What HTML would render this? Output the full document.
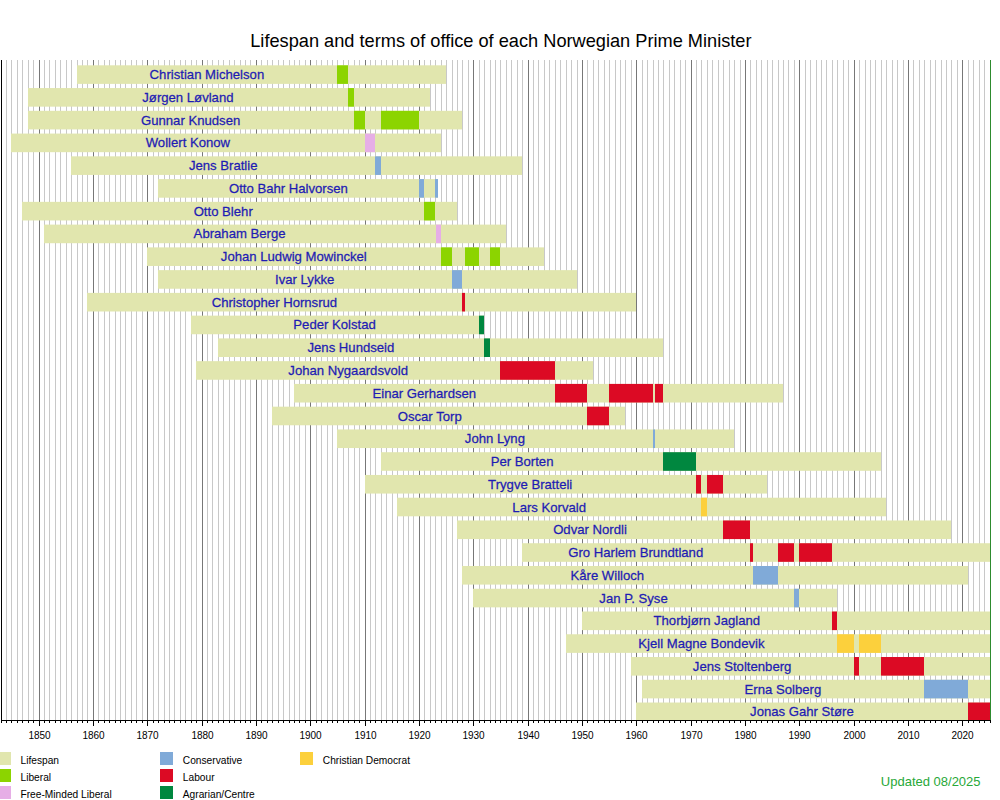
<!DOCTYPE html><html><head><meta charset="utf-8"><style>html,body{margin:0;padding:0;background:#fff;width:1000px;height:800px;overflow:hidden}svg{display:block}text{font-family:"Liberation Sans",sans-serif}</style></head><body>
<svg width="1000" height="800" viewBox="0 0 1000 800">
<rect width="1000" height="800" fill="#fff"/>
<g shape-rendering="crispEdges">
<rect x="6" y="60" width="1" height="660" fill="#c8c8c8"/>
<rect x="11" y="60" width="1" height="660" fill="#c8c8c8"/>
<rect x="17" y="60" width="1" height="660" fill="#c8c8c8"/>
<rect x="22" y="60" width="1" height="660" fill="#c8c8c8"/>
<rect x="28" y="60" width="1" height="660" fill="#c8c8c8"/>
<rect x="33" y="60" width="1" height="660" fill="#c8c8c8"/>
<rect x="39" y="60" width="1" height="660" fill="#777777"/>
<rect x="44" y="60" width="1" height="660" fill="#c8c8c8"/>
<rect x="49" y="60" width="1" height="660" fill="#c8c8c8"/>
<rect x="55" y="60" width="1" height="660" fill="#c8c8c8"/>
<rect x="60" y="60" width="1" height="660" fill="#c8c8c8"/>
<rect x="66" y="60" width="1" height="660" fill="#c8c8c8"/>
<rect x="71" y="60" width="1" height="660" fill="#c8c8c8"/>
<rect x="77" y="60" width="1" height="660" fill="#c8c8c8"/>
<rect x="82" y="60" width="1" height="660" fill="#c8c8c8"/>
<rect x="87" y="60" width="1" height="660" fill="#c8c8c8"/>
<rect x="93" y="60" width="1" height="660" fill="#777777"/>
<rect x="98" y="60" width="1" height="660" fill="#c8c8c8"/>
<rect x="104" y="60" width="1" height="660" fill="#c8c8c8"/>
<rect x="109" y="60" width="1" height="660" fill="#c8c8c8"/>
<rect x="115" y="60" width="1" height="660" fill="#c8c8c8"/>
<rect x="120" y="60" width="1" height="660" fill="#c8c8c8"/>
<rect x="125" y="60" width="1" height="660" fill="#c8c8c8"/>
<rect x="131" y="60" width="1" height="660" fill="#c8c8c8"/>
<rect x="136" y="60" width="1" height="660" fill="#c8c8c8"/>
<rect x="142" y="60" width="1" height="660" fill="#c8c8c8"/>
<rect x="147" y="60" width="1" height="660" fill="#777777"/>
<rect x="153" y="60" width="1" height="660" fill="#c8c8c8"/>
<rect x="158" y="60" width="1" height="660" fill="#c8c8c8"/>
<rect x="164" y="60" width="1" height="660" fill="#c8c8c8"/>
<rect x="169" y="60" width="1" height="660" fill="#c8c8c8"/>
<rect x="174" y="60" width="1" height="660" fill="#c8c8c8"/>
<rect x="180" y="60" width="1" height="660" fill="#c8c8c8"/>
<rect x="185" y="60" width="1" height="660" fill="#c8c8c8"/>
<rect x="191" y="60" width="1" height="660" fill="#c8c8c8"/>
<rect x="196" y="60" width="1" height="660" fill="#c8c8c8"/>
<rect x="202" y="60" width="1" height="660" fill="#777777"/>
<rect x="207" y="60" width="1" height="660" fill="#c8c8c8"/>
<rect x="212" y="60" width="1" height="660" fill="#c8c8c8"/>
<rect x="218" y="60" width="1" height="660" fill="#c8c8c8"/>
<rect x="223" y="60" width="1" height="660" fill="#c8c8c8"/>
<rect x="229" y="60" width="1" height="660" fill="#c8c8c8"/>
<rect x="234" y="60" width="1" height="660" fill="#c8c8c8"/>
<rect x="240" y="60" width="1" height="660" fill="#c8c8c8"/>
<rect x="245" y="60" width="1" height="660" fill="#c8c8c8"/>
<rect x="250" y="60" width="1" height="660" fill="#c8c8c8"/>
<rect x="256" y="60" width="1" height="660" fill="#777777"/>
<rect x="261" y="60" width="1" height="660" fill="#c8c8c8"/>
<rect x="267" y="60" width="1" height="660" fill="#c8c8c8"/>
<rect x="272" y="60" width="1" height="660" fill="#c8c8c8"/>
<rect x="278" y="60" width="1" height="660" fill="#c8c8c8"/>
<rect x="283" y="60" width="1" height="660" fill="#c8c8c8"/>
<rect x="289" y="60" width="1" height="660" fill="#c8c8c8"/>
<rect x="294" y="60" width="1" height="660" fill="#c8c8c8"/>
<rect x="299" y="60" width="1" height="660" fill="#c8c8c8"/>
<rect x="305" y="60" width="1" height="660" fill="#c8c8c8"/>
<rect x="310" y="60" width="1" height="660" fill="#777777"/>
<rect x="316" y="60" width="1" height="660" fill="#c8c8c8"/>
<rect x="321" y="60" width="1" height="660" fill="#c8c8c8"/>
<rect x="327" y="60" width="1" height="660" fill="#c8c8c8"/>
<rect x="332" y="60" width="1" height="660" fill="#c8c8c8"/>
<rect x="337" y="60" width="1" height="660" fill="#c8c8c8"/>
<rect x="343" y="60" width="1" height="660" fill="#c8c8c8"/>
<rect x="348" y="60" width="1" height="660" fill="#c8c8c8"/>
<rect x="354" y="60" width="1" height="660" fill="#c8c8c8"/>
<rect x="359" y="60" width="1" height="660" fill="#c8c8c8"/>
<rect x="365" y="60" width="1" height="660" fill="#777777"/>
<rect x="370" y="60" width="1" height="660" fill="#c8c8c8"/>
<rect x="375" y="60" width="1" height="660" fill="#c8c8c8"/>
<rect x="381" y="60" width="1" height="660" fill="#c8c8c8"/>
<rect x="386" y="60" width="1" height="660" fill="#c8c8c8"/>
<rect x="392" y="60" width="1" height="660" fill="#c8c8c8"/>
<rect x="397" y="60" width="1" height="660" fill="#c8c8c8"/>
<rect x="403" y="60" width="1" height="660" fill="#c8c8c8"/>
<rect x="408" y="60" width="1" height="660" fill="#c8c8c8"/>
<rect x="413" y="60" width="1" height="660" fill="#c8c8c8"/>
<rect x="419" y="60" width="1" height="660" fill="#777777"/>
<rect x="424" y="60" width="1" height="660" fill="#c8c8c8"/>
<rect x="430" y="60" width="1" height="660" fill="#c8c8c8"/>
<rect x="435" y="60" width="1" height="660" fill="#c8c8c8"/>
<rect x="441" y="60" width="1" height="660" fill="#c8c8c8"/>
<rect x="446" y="60" width="1" height="660" fill="#c8c8c8"/>
<rect x="452" y="60" width="1" height="660" fill="#c8c8c8"/>
<rect x="457" y="60" width="1" height="660" fill="#c8c8c8"/>
<rect x="462" y="60" width="1" height="660" fill="#c8c8c8"/>
<rect x="468" y="60" width="1" height="660" fill="#c8c8c8"/>
<rect x="473" y="60" width="1" height="660" fill="#777777"/>
<rect x="479" y="60" width="1" height="660" fill="#c8c8c8"/>
<rect x="484" y="60" width="1" height="660" fill="#c8c8c8"/>
<rect x="490" y="60" width="1" height="660" fill="#c8c8c8"/>
<rect x="495" y="60" width="1" height="660" fill="#c8c8c8"/>
<rect x="500" y="60" width="1" height="660" fill="#c8c8c8"/>
<rect x="506" y="60" width="1" height="660" fill="#c8c8c8"/>
<rect x="511" y="60" width="1" height="660" fill="#c8c8c8"/>
<rect x="517" y="60" width="1" height="660" fill="#c8c8c8"/>
<rect x="522" y="60" width="1" height="660" fill="#c8c8c8"/>
<rect x="528" y="60" width="1" height="660" fill="#777777"/>
<rect x="533" y="60" width="1" height="660" fill="#c8c8c8"/>
<rect x="538" y="60" width="1" height="660" fill="#c8c8c8"/>
<rect x="544" y="60" width="1" height="660" fill="#c8c8c8"/>
<rect x="549" y="60" width="1" height="660" fill="#c8c8c8"/>
<rect x="555" y="60" width="1" height="660" fill="#c8c8c8"/>
<rect x="560" y="60" width="1" height="660" fill="#c8c8c8"/>
<rect x="566" y="60" width="1" height="660" fill="#c8c8c8"/>
<rect x="571" y="60" width="1" height="660" fill="#c8c8c8"/>
<rect x="577" y="60" width="1" height="660" fill="#c8c8c8"/>
<rect x="582" y="60" width="1" height="660" fill="#777777"/>
<rect x="587" y="60" width="1" height="660" fill="#c8c8c8"/>
<rect x="593" y="60" width="1" height="660" fill="#c8c8c8"/>
<rect x="598" y="60" width="1" height="660" fill="#c8c8c8"/>
<rect x="604" y="60" width="1" height="660" fill="#c8c8c8"/>
<rect x="609" y="60" width="1" height="660" fill="#c8c8c8"/>
<rect x="615" y="60" width="1" height="660" fill="#c8c8c8"/>
<rect x="620" y="60" width="1" height="660" fill="#c8c8c8"/>
<rect x="625" y="60" width="1" height="660" fill="#c8c8c8"/>
<rect x="631" y="60" width="1" height="660" fill="#c8c8c8"/>
<rect x="636" y="60" width="1" height="660" fill="#777777"/>
<rect x="642" y="60" width="1" height="660" fill="#c8c8c8"/>
<rect x="647" y="60" width="1" height="660" fill="#c8c8c8"/>
<rect x="653" y="60" width="1" height="660" fill="#c8c8c8"/>
<rect x="658" y="60" width="1" height="660" fill="#c8c8c8"/>
<rect x="663" y="60" width="1" height="660" fill="#c8c8c8"/>
<rect x="669" y="60" width="1" height="660" fill="#c8c8c8"/>
<rect x="674" y="60" width="1" height="660" fill="#c8c8c8"/>
<rect x="680" y="60" width="1" height="660" fill="#c8c8c8"/>
<rect x="685" y="60" width="1" height="660" fill="#c8c8c8"/>
<rect x="691" y="60" width="1" height="660" fill="#777777"/>
<rect x="696" y="60" width="1" height="660" fill="#c8c8c8"/>
<rect x="701" y="60" width="1" height="660" fill="#c8c8c8"/>
<rect x="707" y="60" width="1" height="660" fill="#c8c8c8"/>
<rect x="712" y="60" width="1" height="660" fill="#c8c8c8"/>
<rect x="718" y="60" width="1" height="660" fill="#c8c8c8"/>
<rect x="723" y="60" width="1" height="660" fill="#c8c8c8"/>
<rect x="729" y="60" width="1" height="660" fill="#c8c8c8"/>
<rect x="734" y="60" width="1" height="660" fill="#c8c8c8"/>
<rect x="740" y="60" width="1" height="660" fill="#c8c8c8"/>
<rect x="745" y="60" width="1" height="660" fill="#777777"/>
<rect x="750" y="60" width="1" height="660" fill="#c8c8c8"/>
<rect x="756" y="60" width="1" height="660" fill="#c8c8c8"/>
<rect x="761" y="60" width="1" height="660" fill="#c8c8c8"/>
<rect x="767" y="60" width="1" height="660" fill="#c8c8c8"/>
<rect x="772" y="60" width="1" height="660" fill="#c8c8c8"/>
<rect x="778" y="60" width="1" height="660" fill="#c8c8c8"/>
<rect x="783" y="60" width="1" height="660" fill="#c8c8c8"/>
<rect x="788" y="60" width="1" height="660" fill="#c8c8c8"/>
<rect x="794" y="60" width="1" height="660" fill="#c8c8c8"/>
<rect x="799" y="60" width="1" height="660" fill="#777777"/>
<rect x="805" y="60" width="1" height="660" fill="#c8c8c8"/>
<rect x="810" y="60" width="1" height="660" fill="#c8c8c8"/>
<rect x="816" y="60" width="1" height="660" fill="#c8c8c8"/>
<rect x="821" y="60" width="1" height="660" fill="#c8c8c8"/>
<rect x="826" y="60" width="1" height="660" fill="#c8c8c8"/>
<rect x="832" y="60" width="1" height="660" fill="#c8c8c8"/>
<rect x="837" y="60" width="1" height="660" fill="#c8c8c8"/>
<rect x="843" y="60" width="1" height="660" fill="#c8c8c8"/>
<rect x="848" y="60" width="1" height="660" fill="#c8c8c8"/>
<rect x="854" y="60" width="1" height="660" fill="#777777"/>
<rect x="859" y="60" width="1" height="660" fill="#c8c8c8"/>
<rect x="865" y="60" width="1" height="660" fill="#c8c8c8"/>
<rect x="870" y="60" width="1" height="660" fill="#c8c8c8"/>
<rect x="875" y="60" width="1" height="660" fill="#c8c8c8"/>
<rect x="881" y="60" width="1" height="660" fill="#c8c8c8"/>
<rect x="886" y="60" width="1" height="660" fill="#c8c8c8"/>
<rect x="892" y="60" width="1" height="660" fill="#c8c8c8"/>
<rect x="897" y="60" width="1" height="660" fill="#c8c8c8"/>
<rect x="903" y="60" width="1" height="660" fill="#c8c8c8"/>
<rect x="908" y="60" width="1" height="660" fill="#777777"/>
<rect x="913" y="60" width="1" height="660" fill="#c8c8c8"/>
<rect x="919" y="60" width="1" height="660" fill="#c8c8c8"/>
<rect x="924" y="60" width="1" height="660" fill="#c8c8c8"/>
<rect x="930" y="60" width="1" height="660" fill="#c8c8c8"/>
<rect x="935" y="60" width="1" height="660" fill="#c8c8c8"/>
<rect x="941" y="60" width="1" height="660" fill="#c8c8c8"/>
<rect x="946" y="60" width="1" height="660" fill="#c8c8c8"/>
<rect x="951" y="60" width="1" height="660" fill="#c8c8c8"/>
<rect x="957" y="60" width="1" height="660" fill="#c8c8c8"/>
<rect x="962" y="60" width="1" height="660" fill="#777777"/>
<rect x="968" y="60" width="1" height="660" fill="#c8c8c8"/>
<rect x="973" y="60" width="1" height="660" fill="#c8c8c8"/>
<rect x="979" y="60" width="1" height="660" fill="#c8c8c8"/>
<rect x="984" y="60" width="1" height="660" fill="#c8c8c8"/>
</g>
<g>
<rect x="77" y="65.3" width="369" height="18.60000000000001" fill="#e1e6ae"/>
<rect x="337" y="65.3" width="11" height="18.60000000000001" fill="#8cd400"/>
<rect x="28" y="88.06" width="402" height="18.599999999999994" fill="#e1e6ae"/>
<rect x="348" y="88.06" width="6" height="18.599999999999994" fill="#8cd400"/>
<rect x="28" y="110.82" width="434" height="18.599999999999994" fill="#e1e6ae"/>
<rect x="354" y="110.82" width="11" height="18.599999999999994" fill="#8cd400"/>
<rect x="381" y="110.82" width="38" height="18.599999999999994" fill="#8cd400"/>
<rect x="11" y="133.58" width="430" height="18.599999999999994" fill="#e1e6ae"/>
<rect x="365" y="133.58" width="10" height="18.599999999999994" fill="#e6aee6"/>
<rect x="71" y="156.33" width="451" height="18.599999999999994" fill="#e1e6ae"/>
<rect x="375" y="156.33" width="6" height="18.599999999999994" fill="#80aad8"/>
<rect x="158" y="179.09" width="280" height="18.599999999999994" fill="#e1e6ae"/>
<rect x="419" y="179.09" width="5" height="18.599999999999994" fill="#80aad8"/>
<rect x="435" y="179.09" width="3" height="18.599999999999994" fill="#80aad8"/>
<rect x="22" y="201.85" width="435" height="18.599999999999994" fill="#e1e6ae"/>
<rect x="424" y="201.85" width="11" height="18.599999999999994" fill="#8cd400"/>
<rect x="44" y="224.61" width="462" height="18.599999999999994" fill="#e1e6ae"/>
<rect x="436" y="224.61" width="5" height="18.599999999999994" fill="#e6aee6"/>
<rect x="147" y="247.37" width="397" height="18.600000000000023" fill="#e1e6ae"/>
<rect x="441" y="247.37" width="11" height="18.600000000000023" fill="#8cd400"/>
<rect x="465" y="247.37" width="14" height="18.600000000000023" fill="#8cd400"/>
<rect x="490" y="247.37" width="10" height="18.600000000000023" fill="#8cd400"/>
<rect x="158" y="270.13" width="419" height="18.600000000000023" fill="#e1e6ae"/>
<rect x="452" y="270.13" width="10" height="18.600000000000023" fill="#80aad8"/>
<rect x="87" y="292.89" width="549" height="18.600000000000023" fill="#e1e6ae"/>
<rect x="462" y="292.89" width="3" height="18.600000000000023" fill="#dc0a24"/>
<rect x="191" y="315.64" width="293" height="18.600000000000023" fill="#e1e6ae"/>
<rect x="479" y="315.64" width="5" height="18.600000000000023" fill="#00873f"/>
<rect x="218" y="338.4" width="445" height="18.600000000000023" fill="#e1e6ae"/>
<rect x="484" y="338.4" width="6" height="18.600000000000023" fill="#00873f"/>
<rect x="196" y="361.16" width="397" height="18.599999999999966" fill="#e1e6ae"/>
<rect x="500" y="361.16" width="55" height="18.599999999999966" fill="#dc0a24"/>
<rect x="294" y="383.92" width="489" height="18.599999999999966" fill="#e1e6ae"/>
<rect x="555" y="383.92" width="32" height="18.599999999999966" fill="#dc0a24"/>
<rect x="609" y="383.92" width="44" height="18.599999999999966" fill="#dc0a24"/>
<rect x="655" y="383.92" width="8" height="18.599999999999966" fill="#dc0a24"/>
<rect x="272" y="406.68" width="353" height="18.599999999999966" fill="#e1e6ae"/>
<rect x="587" y="406.68" width="22" height="18.599999999999966" fill="#dc0a24"/>
<rect x="337" y="429.44" width="397" height="18.600000000000023" fill="#e1e6ae"/>
<rect x="653" y="429.44" width="2" height="18.600000000000023" fill="#80aad8"/>
<rect x="381" y="452.2" width="500" height="18.600000000000023" fill="#e1e6ae"/>
<rect x="663" y="452.2" width="33" height="18.600000000000023" fill="#00873f"/>
<rect x="365" y="474.96" width="402" height="18.600000000000023" fill="#e1e6ae"/>
<rect x="696" y="474.96" width="5" height="18.600000000000023" fill="#dc0a24"/>
<rect x="707" y="474.96" width="16" height="18.600000000000023" fill="#dc0a24"/>
<rect x="397" y="497.71" width="489" height="18.599999999999966" fill="#e1e6ae"/>
<rect x="701" y="497.71" width="6" height="18.599999999999966" fill="#fcd03c"/>
<rect x="457" y="520.47" width="494" height="18.600000000000023" fill="#e1e6ae"/>
<rect x="723" y="520.47" width="27" height="18.600000000000023" fill="#dc0a24"/>
<rect x="522" y="543.23" width="468" height="18.600000000000023" fill="#e1e6ae"/>
<rect x="750" y="543.23" width="3" height="18.600000000000023" fill="#dc0a24"/>
<rect x="778" y="543.23" width="16" height="18.600000000000023" fill="#dc0a24"/>
<rect x="799" y="543.23" width="33" height="18.600000000000023" fill="#dc0a24"/>
<rect x="462" y="565.99" width="506" height="18.600000000000023" fill="#e1e6ae"/>
<rect x="753" y="565.99" width="25" height="18.600000000000023" fill="#80aad8"/>
<rect x="473" y="588.75" width="364" height="18.600000000000023" fill="#e1e6ae"/>
<rect x="794" y="588.75" width="5" height="18.600000000000023" fill="#80aad8"/>
<rect x="582" y="611.51" width="408" height="18.600000000000023" fill="#e1e6ae"/>
<rect x="832" y="611.51" width="5" height="18.600000000000023" fill="#dc0a24"/>
<rect x="566" y="634.27" width="424" height="18.600000000000023" fill="#e1e6ae"/>
<rect x="837" y="634.27" width="17" height="18.600000000000023" fill="#fcd03c"/>
<rect x="859" y="634.27" width="22" height="18.600000000000023" fill="#fcd03c"/>
<rect x="631" y="657.02" width="359" height="18.600000000000023" fill="#e1e6ae"/>
<rect x="854" y="657.02" width="5" height="18.600000000000023" fill="#dc0a24"/>
<rect x="881" y="657.02" width="43" height="18.600000000000023" fill="#dc0a24"/>
<rect x="642" y="679.78" width="348" height="18.600000000000023" fill="#e1e6ae"/>
<rect x="924" y="679.78" width="44" height="18.600000000000023" fill="#80aad8"/>
<rect x="636" y="702.54" width="354" height="17.460000000000036" fill="#e1e6ae"/>
<rect x="968" y="702.54" width="22" height="17.460000000000036" fill="#dc0a24"/>
</g>
<text transform="translate(206.9,79.1) scale(1,1.03)" text-anchor="middle" font-size="13.15" fill="#1e1cb4" stroke="#1e1cb4" stroke-width="0.25">Christian Michelson</text><text transform="translate(187.9,101.9) scale(1,1.03)" text-anchor="middle" font-size="13.15" fill="#1e1cb4" stroke="#1e1cb4" stroke-width="0.25">Jørgen Løvland</text><text transform="translate(190.6,124.6) scale(1,1.03)" text-anchor="middle" font-size="13.15" fill="#1e1cb4" stroke="#1e1cb4" stroke-width="0.25">Gunnar Knudsen</text><text transform="translate(187.9,147.4) scale(1,1.03)" text-anchor="middle" font-size="13.15" fill="#1e1cb4" stroke="#1e1cb4" stroke-width="0.25">Wollert Konow</text><text transform="translate(223.2,170.1) scale(1,1.03)" text-anchor="middle" font-size="13.15" fill="#1e1cb4" stroke="#1e1cb4" stroke-width="0.25">Jens Bratlie</text><text transform="translate(288.4,192.9) scale(1,1.03)" text-anchor="middle" font-size="13.15" fill="#1e1cb4" stroke="#1e1cb4" stroke-width="0.25">Otto Bahr Halvorsen</text><text transform="translate(223.2,215.7) scale(1,1.03)" text-anchor="middle" font-size="13.15" fill="#1e1cb4" stroke="#1e1cb4" stroke-width="0.25">Otto Blehr</text><text transform="translate(239.6,238.4) scale(1,1.03)" text-anchor="middle" font-size="13.15" fill="#1e1cb4" stroke="#1e1cb4" stroke-width="0.25">Abraham Berge</text><text transform="translate(293.8,261.2) scale(1,1.03)" text-anchor="middle" font-size="13.15" fill="#1e1cb4" stroke="#1e1cb4" stroke-width="0.25">Johan Ludwig Mowinckel</text><text transform="translate(304.7,283.9) scale(1,1.03)" text-anchor="middle" font-size="13.15" fill="#1e1cb4" stroke="#1e1cb4" stroke-width="0.25">Ivar Lykke</text><text transform="translate(274.4,306.7) scale(1,1.03)" text-anchor="middle" font-size="13.15" fill="#1e1cb4" stroke="#1e1cb4" stroke-width="0.25">Christopher Hornsrud</text><text transform="translate(334.6,329.4) scale(1,1.03)" text-anchor="middle" font-size="13.15" fill="#1e1cb4" stroke="#1e1cb4" stroke-width="0.25">Peder Kolstad</text><text transform="translate(350.9,352.2) scale(1,1.03)" text-anchor="middle" font-size="13.15" fill="#1e1cb4" stroke="#1e1cb4" stroke-width="0.25">Jens Hundseid</text><text transform="translate(348.2,375.0) scale(1,1.03)" text-anchor="middle" font-size="13.15" fill="#1e1cb4" stroke="#1e1cb4" stroke-width="0.25">Johan Nygaardsvold</text><text transform="translate(424.3,397.7) scale(1,1.03)" text-anchor="middle" font-size="13.15" fill="#1e1cb4" stroke="#1e1cb4" stroke-width="0.25">Einar Gerhardsen</text><text transform="translate(429.7,420.5) scale(1,1.03)" text-anchor="middle" font-size="13.15" fill="#1e1cb4" stroke="#1e1cb4" stroke-width="0.25">Oscar Torp</text><text transform="translate(494.9,443.2) scale(1,1.03)" text-anchor="middle" font-size="13.15" fill="#1e1cb4" stroke="#1e1cb4" stroke-width="0.25">John Lyng</text><text transform="translate(522.1,466.0) scale(1,1.03)" text-anchor="middle" font-size="13.15" fill="#1e1cb4" stroke="#1e1cb4" stroke-width="0.25">Per Borten</text><text transform="translate(530.2,488.8) scale(1,1.03)" text-anchor="middle" font-size="13.15" fill="#1e1cb4" stroke="#1e1cb4" stroke-width="0.25">Trygve Bratteli</text><text transform="translate(549.2,511.5) scale(1,1.03)" text-anchor="middle" font-size="13.15" fill="#1e1cb4" stroke="#1e1cb4" stroke-width="0.25">Lars Korvald</text><text transform="translate(590.0,534.3) scale(1,1.03)" text-anchor="middle" font-size="13.15" fill="#1e1cb4" stroke="#1e1cb4" stroke-width="0.25">Odvar Nordli</text><text transform="translate(635.7,557.0) scale(1,1.03)" text-anchor="middle" font-size="13.15" fill="#1e1cb4" stroke="#1e1cb4" stroke-width="0.25">Gro Harlem Brundtland</text><text transform="translate(607.3,579.8) scale(1,1.03)" text-anchor="middle" font-size="13.15" fill="#1e1cb4" stroke="#1e1cb4" stroke-width="0.25">Kåre Willoch</text><text transform="translate(633.5,602.5) scale(1,1.03)" text-anchor="middle" font-size="13.15" fill="#1e1cb4" stroke="#1e1cb4" stroke-width="0.25">Jan P. Syse</text><text transform="translate(706.8,625.3) scale(1,1.03)" text-anchor="middle" font-size="13.15" fill="#1e1cb4" stroke="#1e1cb4" stroke-width="0.25">Thorbjørn Jagland</text><text transform="translate(701.4,648.1) scale(1,1.03)" text-anchor="middle" font-size="13.15" fill="#1e1cb4" stroke="#1e1cb4" stroke-width="0.25">Kjell Magne Bondevik</text><text transform="translate(742.1,670.8) scale(1,1.03)" text-anchor="middle" font-size="13.15" fill="#1e1cb4" stroke="#1e1cb4" stroke-width="0.25">Jens Stoltenberg</text><text transform="translate(782.9,693.6) scale(1,1.03)" text-anchor="middle" font-size="13.15" fill="#1e1cb4" stroke="#1e1cb4" stroke-width="0.25">Erna Solberg</text><text transform="translate(801.9,716.3) scale(1,1.03)" text-anchor="middle" font-size="13.15" fill="#1e1cb4" stroke="#1e1cb4" stroke-width="0.25">Jonas Gahr Støre</text>
<g shape-rendering="crispEdges">
<rect x="1" y="60" width="1" height="661" fill="#000"/>
<rect x="990" y="60" width="1" height="661" fill="#2e8b2e"/>
<rect x="1" y="720" width="990" height="1" fill="#000"/>
<rect x="1" y="720" width="1" height="3" fill="#000"/>
<rect x="6" y="720" width="1" height="3" fill="#000"/>
<rect x="11" y="720" width="1" height="3" fill="#000"/>
<rect x="17" y="720" width="1" height="3" fill="#000"/>
<rect x="22" y="720" width="1" height="3" fill="#000"/>
<rect x="28" y="720" width="1" height="3" fill="#000"/>
<rect x="33" y="720" width="1" height="3" fill="#000"/>
<rect x="39" y="720" width="1" height="6" fill="#000"/>
<rect x="44" y="720" width="1" height="3" fill="#000"/>
<rect x="49" y="720" width="1" height="3" fill="#000"/>
<rect x="55" y="720" width="1" height="3" fill="#000"/>
<rect x="60" y="720" width="1" height="3" fill="#000"/>
<rect x="66" y="720" width="1" height="3" fill="#000"/>
<rect x="71" y="720" width="1" height="3" fill="#000"/>
<rect x="77" y="720" width="1" height="3" fill="#000"/>
<rect x="82" y="720" width="1" height="3" fill="#000"/>
<rect x="87" y="720" width="1" height="3" fill="#000"/>
<rect x="93" y="720" width="1" height="6" fill="#000"/>
<rect x="98" y="720" width="1" height="3" fill="#000"/>
<rect x="104" y="720" width="1" height="3" fill="#000"/>
<rect x="109" y="720" width="1" height="3" fill="#000"/>
<rect x="115" y="720" width="1" height="3" fill="#000"/>
<rect x="120" y="720" width="1" height="3" fill="#000"/>
<rect x="125" y="720" width="1" height="3" fill="#000"/>
<rect x="131" y="720" width="1" height="3" fill="#000"/>
<rect x="136" y="720" width="1" height="3" fill="#000"/>
<rect x="142" y="720" width="1" height="3" fill="#000"/>
<rect x="147" y="720" width="1" height="6" fill="#000"/>
<rect x="153" y="720" width="1" height="3" fill="#000"/>
<rect x="158" y="720" width="1" height="3" fill="#000"/>
<rect x="164" y="720" width="1" height="3" fill="#000"/>
<rect x="169" y="720" width="1" height="3" fill="#000"/>
<rect x="174" y="720" width="1" height="3" fill="#000"/>
<rect x="180" y="720" width="1" height="3" fill="#000"/>
<rect x="185" y="720" width="1" height="3" fill="#000"/>
<rect x="191" y="720" width="1" height="3" fill="#000"/>
<rect x="196" y="720" width="1" height="3" fill="#000"/>
<rect x="202" y="720" width="1" height="6" fill="#000"/>
<rect x="207" y="720" width="1" height="3" fill="#000"/>
<rect x="212" y="720" width="1" height="3" fill="#000"/>
<rect x="218" y="720" width="1" height="3" fill="#000"/>
<rect x="223" y="720" width="1" height="3" fill="#000"/>
<rect x="229" y="720" width="1" height="3" fill="#000"/>
<rect x="234" y="720" width="1" height="3" fill="#000"/>
<rect x="240" y="720" width="1" height="3" fill="#000"/>
<rect x="245" y="720" width="1" height="3" fill="#000"/>
<rect x="250" y="720" width="1" height="3" fill="#000"/>
<rect x="256" y="720" width="1" height="6" fill="#000"/>
<rect x="261" y="720" width="1" height="3" fill="#000"/>
<rect x="267" y="720" width="1" height="3" fill="#000"/>
<rect x="272" y="720" width="1" height="3" fill="#000"/>
<rect x="278" y="720" width="1" height="3" fill="#000"/>
<rect x="283" y="720" width="1" height="3" fill="#000"/>
<rect x="289" y="720" width="1" height="3" fill="#000"/>
<rect x="294" y="720" width="1" height="3" fill="#000"/>
<rect x="299" y="720" width="1" height="3" fill="#000"/>
<rect x="305" y="720" width="1" height="3" fill="#000"/>
<rect x="310" y="720" width="1" height="6" fill="#000"/>
<rect x="316" y="720" width="1" height="3" fill="#000"/>
<rect x="321" y="720" width="1" height="3" fill="#000"/>
<rect x="327" y="720" width="1" height="3" fill="#000"/>
<rect x="332" y="720" width="1" height="3" fill="#000"/>
<rect x="337" y="720" width="1" height="3" fill="#000"/>
<rect x="343" y="720" width="1" height="3" fill="#000"/>
<rect x="348" y="720" width="1" height="3" fill="#000"/>
<rect x="354" y="720" width="1" height="3" fill="#000"/>
<rect x="359" y="720" width="1" height="3" fill="#000"/>
<rect x="365" y="720" width="1" height="6" fill="#000"/>
<rect x="370" y="720" width="1" height="3" fill="#000"/>
<rect x="375" y="720" width="1" height="3" fill="#000"/>
<rect x="381" y="720" width="1" height="3" fill="#000"/>
<rect x="386" y="720" width="1" height="3" fill="#000"/>
<rect x="392" y="720" width="1" height="3" fill="#000"/>
<rect x="397" y="720" width="1" height="3" fill="#000"/>
<rect x="403" y="720" width="1" height="3" fill="#000"/>
<rect x="408" y="720" width="1" height="3" fill="#000"/>
<rect x="413" y="720" width="1" height="3" fill="#000"/>
<rect x="419" y="720" width="1" height="6" fill="#000"/>
<rect x="424" y="720" width="1" height="3" fill="#000"/>
<rect x="430" y="720" width="1" height="3" fill="#000"/>
<rect x="435" y="720" width="1" height="3" fill="#000"/>
<rect x="441" y="720" width="1" height="3" fill="#000"/>
<rect x="446" y="720" width="1" height="3" fill="#000"/>
<rect x="452" y="720" width="1" height="3" fill="#000"/>
<rect x="457" y="720" width="1" height="3" fill="#000"/>
<rect x="462" y="720" width="1" height="3" fill="#000"/>
<rect x="468" y="720" width="1" height="3" fill="#000"/>
<rect x="473" y="720" width="1" height="6" fill="#000"/>
<rect x="479" y="720" width="1" height="3" fill="#000"/>
<rect x="484" y="720" width="1" height="3" fill="#000"/>
<rect x="490" y="720" width="1" height="3" fill="#000"/>
<rect x="495" y="720" width="1" height="3" fill="#000"/>
<rect x="500" y="720" width="1" height="3" fill="#000"/>
<rect x="506" y="720" width="1" height="3" fill="#000"/>
<rect x="511" y="720" width="1" height="3" fill="#000"/>
<rect x="517" y="720" width="1" height="3" fill="#000"/>
<rect x="522" y="720" width="1" height="3" fill="#000"/>
<rect x="528" y="720" width="1" height="6" fill="#000"/>
<rect x="533" y="720" width="1" height="3" fill="#000"/>
<rect x="538" y="720" width="1" height="3" fill="#000"/>
<rect x="544" y="720" width="1" height="3" fill="#000"/>
<rect x="549" y="720" width="1" height="3" fill="#000"/>
<rect x="555" y="720" width="1" height="3" fill="#000"/>
<rect x="560" y="720" width="1" height="3" fill="#000"/>
<rect x="566" y="720" width="1" height="3" fill="#000"/>
<rect x="571" y="720" width="1" height="3" fill="#000"/>
<rect x="577" y="720" width="1" height="3" fill="#000"/>
<rect x="582" y="720" width="1" height="6" fill="#000"/>
<rect x="587" y="720" width="1" height="3" fill="#000"/>
<rect x="593" y="720" width="1" height="3" fill="#000"/>
<rect x="598" y="720" width="1" height="3" fill="#000"/>
<rect x="604" y="720" width="1" height="3" fill="#000"/>
<rect x="609" y="720" width="1" height="3" fill="#000"/>
<rect x="615" y="720" width="1" height="3" fill="#000"/>
<rect x="620" y="720" width="1" height="3" fill="#000"/>
<rect x="625" y="720" width="1" height="3" fill="#000"/>
<rect x="631" y="720" width="1" height="3" fill="#000"/>
<rect x="636" y="720" width="1" height="6" fill="#000"/>
<rect x="642" y="720" width="1" height="3" fill="#000"/>
<rect x="647" y="720" width="1" height="3" fill="#000"/>
<rect x="653" y="720" width="1" height="3" fill="#000"/>
<rect x="658" y="720" width="1" height="3" fill="#000"/>
<rect x="663" y="720" width="1" height="3" fill="#000"/>
<rect x="669" y="720" width="1" height="3" fill="#000"/>
<rect x="674" y="720" width="1" height="3" fill="#000"/>
<rect x="680" y="720" width="1" height="3" fill="#000"/>
<rect x="685" y="720" width="1" height="3" fill="#000"/>
<rect x="691" y="720" width="1" height="6" fill="#000"/>
<rect x="696" y="720" width="1" height="3" fill="#000"/>
<rect x="701" y="720" width="1" height="3" fill="#000"/>
<rect x="707" y="720" width="1" height="3" fill="#000"/>
<rect x="712" y="720" width="1" height="3" fill="#000"/>
<rect x="718" y="720" width="1" height="3" fill="#000"/>
<rect x="723" y="720" width="1" height="3" fill="#000"/>
<rect x="729" y="720" width="1" height="3" fill="#000"/>
<rect x="734" y="720" width="1" height="3" fill="#000"/>
<rect x="740" y="720" width="1" height="3" fill="#000"/>
<rect x="745" y="720" width="1" height="6" fill="#000"/>
<rect x="750" y="720" width="1" height="3" fill="#000"/>
<rect x="756" y="720" width="1" height="3" fill="#000"/>
<rect x="761" y="720" width="1" height="3" fill="#000"/>
<rect x="767" y="720" width="1" height="3" fill="#000"/>
<rect x="772" y="720" width="1" height="3" fill="#000"/>
<rect x="778" y="720" width="1" height="3" fill="#000"/>
<rect x="783" y="720" width="1" height="3" fill="#000"/>
<rect x="788" y="720" width="1" height="3" fill="#000"/>
<rect x="794" y="720" width="1" height="3" fill="#000"/>
<rect x="799" y="720" width="1" height="6" fill="#000"/>
<rect x="805" y="720" width="1" height="3" fill="#000"/>
<rect x="810" y="720" width="1" height="3" fill="#000"/>
<rect x="816" y="720" width="1" height="3" fill="#000"/>
<rect x="821" y="720" width="1" height="3" fill="#000"/>
<rect x="826" y="720" width="1" height="3" fill="#000"/>
<rect x="832" y="720" width="1" height="3" fill="#000"/>
<rect x="837" y="720" width="1" height="3" fill="#000"/>
<rect x="843" y="720" width="1" height="3" fill="#000"/>
<rect x="848" y="720" width="1" height="3" fill="#000"/>
<rect x="854" y="720" width="1" height="6" fill="#000"/>
<rect x="859" y="720" width="1" height="3" fill="#000"/>
<rect x="865" y="720" width="1" height="3" fill="#000"/>
<rect x="870" y="720" width="1" height="3" fill="#000"/>
<rect x="875" y="720" width="1" height="3" fill="#000"/>
<rect x="881" y="720" width="1" height="3" fill="#000"/>
<rect x="886" y="720" width="1" height="3" fill="#000"/>
<rect x="892" y="720" width="1" height="3" fill="#000"/>
<rect x="897" y="720" width="1" height="3" fill="#000"/>
<rect x="903" y="720" width="1" height="3" fill="#000"/>
<rect x="908" y="720" width="1" height="6" fill="#000"/>
<rect x="913" y="720" width="1" height="3" fill="#000"/>
<rect x="919" y="720" width="1" height="3" fill="#000"/>
<rect x="924" y="720" width="1" height="3" fill="#000"/>
<rect x="930" y="720" width="1" height="3" fill="#000"/>
<rect x="935" y="720" width="1" height="3" fill="#000"/>
<rect x="941" y="720" width="1" height="3" fill="#000"/>
<rect x="946" y="720" width="1" height="3" fill="#000"/>
<rect x="951" y="720" width="1" height="3" fill="#000"/>
<rect x="957" y="720" width="1" height="3" fill="#000"/>
<rect x="962" y="720" width="1" height="6" fill="#000"/>
<rect x="968" y="720" width="1" height="3" fill="#000"/>
<rect x="973" y="720" width="1" height="3" fill="#000"/>
<rect x="979" y="720" width="1" height="3" fill="#000"/>
<rect x="984" y="720" width="1" height="3" fill="#000"/>
<rect x="990" y="720" width="1" height="3" fill="#000"/>
</g>
<text x="39.5" y="738.6" text-anchor="middle" font-size="10" fill="#000">1850</text>
<text x="93.5" y="738.6" text-anchor="middle" font-size="10" fill="#000">1860</text>
<text x="147.5" y="738.6" text-anchor="middle" font-size="10" fill="#000">1870</text>
<text x="202.5" y="738.6" text-anchor="middle" font-size="10" fill="#000">1880</text>
<text x="256.5" y="738.6" text-anchor="middle" font-size="10" fill="#000">1890</text>
<text x="310.5" y="738.6" text-anchor="middle" font-size="10" fill="#000">1900</text>
<text x="365.5" y="738.6" text-anchor="middle" font-size="10" fill="#000">1910</text>
<text x="419.5" y="738.6" text-anchor="middle" font-size="10" fill="#000">1920</text>
<text x="473.5" y="738.6" text-anchor="middle" font-size="10" fill="#000">1930</text>
<text x="528.5" y="738.6" text-anchor="middle" font-size="10" fill="#000">1940</text>
<text x="582.5" y="738.6" text-anchor="middle" font-size="10" fill="#000">1950</text>
<text x="636.5" y="738.6" text-anchor="middle" font-size="10" fill="#000">1960</text>
<text x="691.5" y="738.6" text-anchor="middle" font-size="10" fill="#000">1970</text>
<text x="745.5" y="738.6" text-anchor="middle" font-size="10" fill="#000">1980</text>
<text x="799.5" y="738.6" text-anchor="middle" font-size="10" fill="#000">1990</text>
<text x="854.5" y="738.6" text-anchor="middle" font-size="10" fill="#000">2000</text>
<text x="908.5" y="738.6" text-anchor="middle" font-size="10" fill="#000">2010</text>
<text x="962.5" y="738.6" text-anchor="middle" font-size="10" fill="#000">2020</text>
<text transform="translate(500.9,46.6) scale(1,1.05)" text-anchor="middle" font-size="18.2" fill="#000">Lifespan and terms of office of each Norwegian Prime Minister</text>
<g>
<rect x="-2.3" y="752" width="13" height="13" fill="#e1e6ae" shape-rendering="crispEdges"/>
<text x="20.5" y="763.7" font-size="10.2" fill="#000">Lifespan</text>
<rect x="-2.3" y="769" width="13" height="13" fill="#8cd400" shape-rendering="crispEdges"/>
<text x="20.5" y="780.7" font-size="10.2" fill="#000">Liberal</text>
<rect x="-2.3" y="786" width="13" height="13" fill="#e6aee6" shape-rendering="crispEdges"/>
<text x="20.5" y="797.7" font-size="10.2" fill="#000">Free-Minded Liberal</text>
<rect x="160" y="752" width="13" height="13" fill="#80aad8" shape-rendering="crispEdges"/>
<text x="182.8" y="763.7" font-size="10.2" fill="#000">Conservative</text>
<rect x="160" y="769" width="13" height="13" fill="#dc0a24" shape-rendering="crispEdges"/>
<text x="182.8" y="780.7" font-size="10.2" fill="#000">Labour</text>
<rect x="160" y="786" width="13" height="13" fill="#00873f" shape-rendering="crispEdges"/>
<text x="182.8" y="797.7" font-size="10.2" fill="#000">Agrarian/Centre</text>
<rect x="300" y="752" width="13" height="13" fill="#fcd03c" shape-rendering="crispEdges"/>
<text x="322.8" y="763.7" font-size="10.2" fill="#000">Christian Democrat</text>
</g>
<text x="880.8" y="785.6" font-size="13" fill="#28a838">Updated 08/2025</text>
</svg></body></html>
